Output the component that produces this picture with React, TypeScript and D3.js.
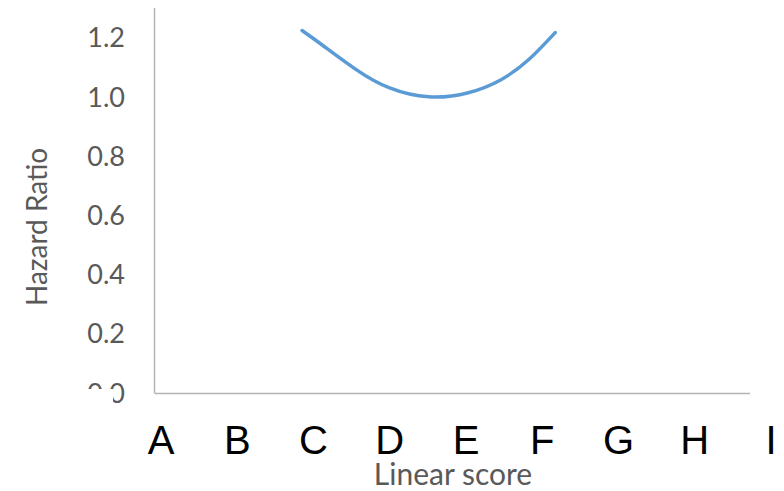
import * as d3 from 'd3';
import React from 'react';

const categories = ['A', 'B', 'C', 'D', 'E', 'F', 'G', 'H', 'I'];
const yTicks = [0, 0.2, 0.4, 0.6, 0.8, 1.0, 1.2];
// position along the score axis, in category steps (A = 0)
const curveScore = [1.85, 2.11, 2.56, 2.99, 3.51, 4.03, 4.46, 4.82, 5.17];
const curveHR = [1.224, 1.176, 1.092, 1.031, 1.0, 1.014, 1.058, 1.125, 1.217];

const width = 784;
const height = 491;

function App() {
  const x = d3.scaleLinear().domain([0, categories.length - 1]).range([161, 771]);
  const y = d3.scaleLinear().domain([0, 1.3]).range([393, 8]);

  const points = curveScore.map((s, i) => [s, curveHR[i]] as [number, number]);
  const line = d3
    .line<[number, number]>()
    .x((d) => x(d[0]))
    .y((d) => y(d[1]))
    .curve(d3.curveNatural);

  const grey = '#595959';
  const axisCol = '#b3b3b3';
  const labelFont = "Lato, 'Open Sans', sans-serif";

  return (
    <svg
      width={width}
      height={height}
      style={{ position: 'absolute', left: 0, top: 0, background: '#fff' }}
    >
      <defs>
        <clipPath id="zeroClip">
          <rect x={0} y={0} width={150} height={389} />
          <rect x={113} y={389} width={14} height={15} />
        </clipPath>
      </defs>

      {/* axes */}
      <line x1={154.5} x2={154.5} y1={y(1.3)} y2={y(0)} stroke={axisCol} strokeWidth={1.5} />
      <line x1={154.5} x2={750} y1={y(0) + 0.5} y2={y(0) + 0.5} stroke={axisCol} strokeWidth={1.5} />

      {/* y tick labels */}
      {yTicks.map((t) => (
        <text
          key={t}
          x={125}
          y={y(t)}
          dy="0.36em"
          textAnchor="end"
          fill={grey}
          fontFamily={labelFont}
          fontSize={27}
          clipPath={t === 0 ? 'url(#zeroClip)' : undefined}
        >
          {t.toFixed(1)}
        </text>
      ))}

      {/* category labels */}
      {categories.map((c, i) => (
        <text
          key={c}
          x={x(i)}
          y={454}
          textAnchor="middle"
          fill="#000"
          fontFamily="'Liberation Sans', Arial, sans-serif"
          fontSize={40}
        >
          {c}
        </text>
      ))}

      {/* curve */}
      <path d={line(points) || ''} fill="none" stroke="#5b9bd5" strokeWidth={3.5} strokeLinecap="round" />

      {/* axis titles */}
      <text
        transform={`translate(47, 227) rotate(-90)`}
        textAnchor="middle"
        fill={grey}
        fontFamily={labelFont}
        fontSize={28}
      >
        Hazard Ratio
      </text>
      <text
        x={453}
        y={485}
        textAnchor="middle"
        fill={grey}
        fontFamily={labelFont}
        fontSize={30}
      >
        Linear score
      </text>
    </svg>
  );
}

export default App;
